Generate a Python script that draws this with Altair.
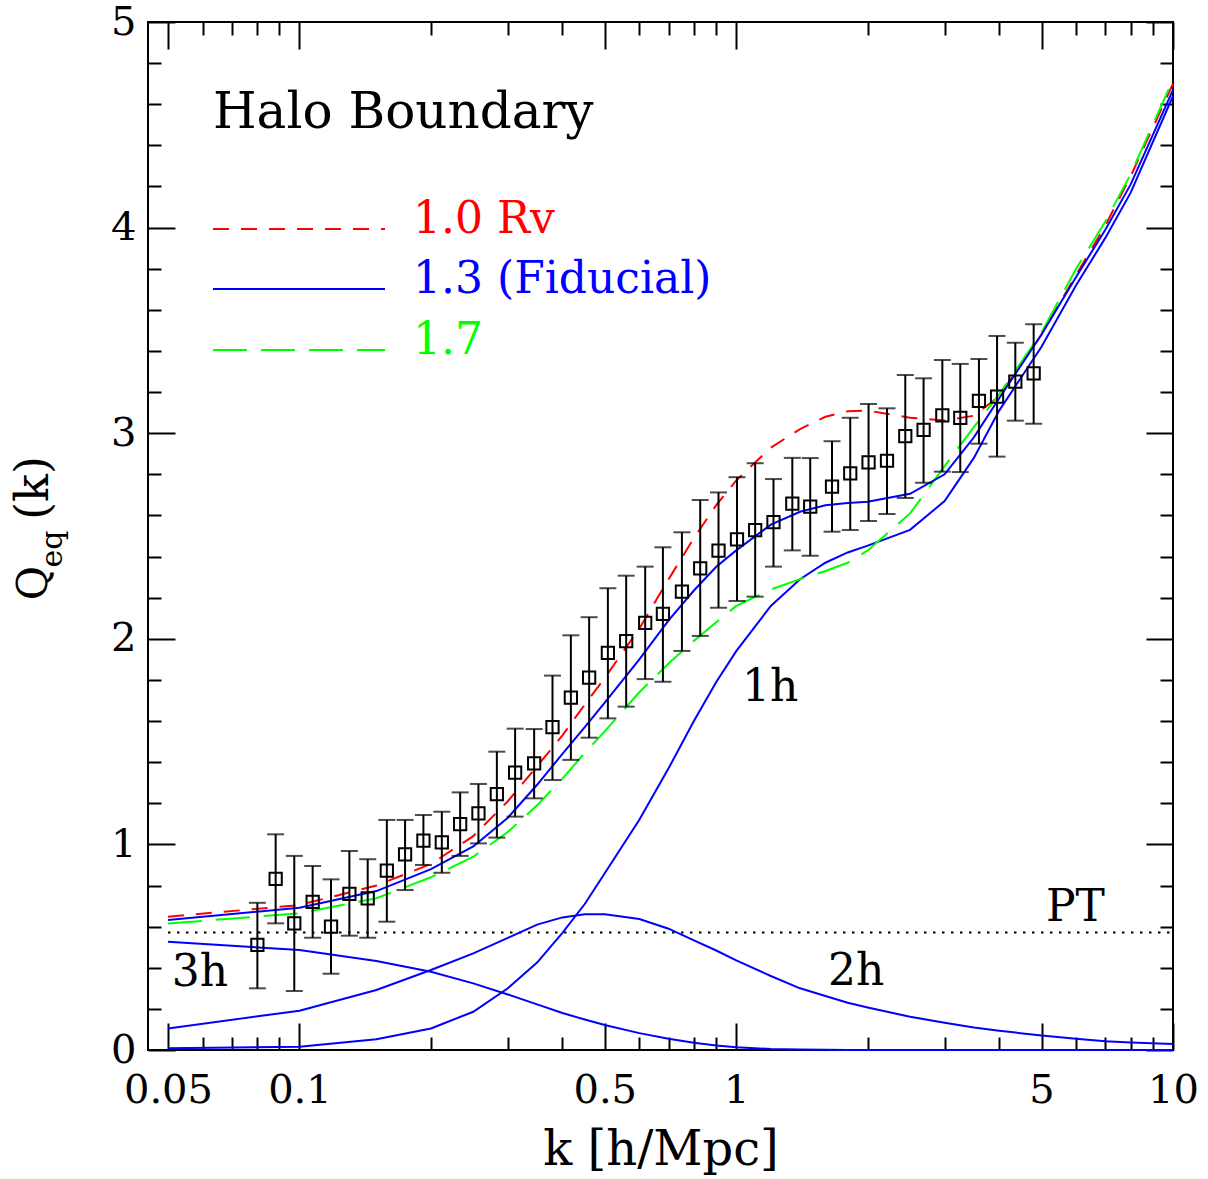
import altair as alt
import pandas as pd

FONT = "DejaVu Serif"

# ---------------- model curves ----------------
k_model = [0.05, 0.1, 0.15, 0.2, 0.25, 0.3, 0.35, 0.4, 0.45, 0.5, 0.6, 0.7, 0.8, 0.9, 1.0,
           1.2, 1.4, 1.6, 1.8, 2.0, 2.5, 3.0, 3.5, 4.0, 5.0, 6.0, 7.0, 8.0, 10.0]
q_rv10 = [0.648, 0.705, 0.800, 0.905, 1.040, 1.210, 1.380, 1.530, 1.680, 1.810, 2.050, 2.290, 2.490, 2.650, 2.770,
          2.930, 3.020, 3.080, 3.107, 3.110, 3.075, 3.062, 3.085, 3.180, 3.480, 3.770, 4.010, 4.250, 4.700]
q_fid = [0.632, 0.692, 0.773, 0.880, 0.990, 1.130, 1.290, 1.440, 1.570, 1.690, 1.900, 2.090, 2.235, 2.350, 2.430,
         2.555, 2.618, 2.650, 2.660, 2.667, 2.705, 2.800, 2.980, 3.170, 3.480, 3.760, 3.990, 4.210, 4.670]
q_rv17 = [0.615, 0.665, 0.738, 0.840, 0.940, 1.060, 1.190, 1.320, 1.445, 1.550, 1.740, 1.880, 1.990, 2.080, 2.160,
          2.240, 2.290, 2.330, 2.370, 2.430, 2.610, 2.840, 3.030, 3.190, 3.490, 3.800, 4.030, 4.260, 4.720]
q_1h = [0.008, 0.016, 0.052, 0.105, 0.186, 0.300, 0.425, 0.570, 0.710, 0.860, 1.120, 1.370, 1.600, 1.790, 1.940,
        2.160, 2.290, 2.370, 2.420, 2.453, 2.530, 2.670, 2.880, 3.110, 3.420, 3.720, 3.950, 4.170, 4.640]
q_2h = [0.105, 0.191, 0.292, 0.389, 0.470, 0.545, 0.610, 0.645, 0.660, 0.660, 0.637, 0.590, 0.533, 0.484, 0.436,
        0.360, 0.300, 0.263, 0.230, 0.207, 0.162, 0.133, 0.109, 0.094, 0.070, 0.055, 0.042, 0.036, 0.029]
q_3h = [0.527, 0.486, 0.433, 0.381, 0.324, 0.270, 0.222, 0.180, 0.148, 0.122, 0.082, 0.055, 0.035, 0.022, 0.013,
        0.005, 0.002, 0.001, 0.0, 0.0, 0.0, 0.0, 0.0, 0.0, 0.0, 0.0, 0.0, 0.0, 0.0]

# tree-level perturbation theory
k_pt = [0.05, 10.0]
q_pt = [0.571, 0.571]

# ---------------- simulation measurements ----------------
k_obs = [0.0801, 0.0882, 0.0973, 0.1072, 0.1181, 0.1301, 0.1433, 0.1585, 0.1745, 0.1922, 0.2118,
         0.2333, 0.2569, 0.2831, 0.3117, 0.3446, 0.3796, 0.4182, 0.4605, 0.5083, 0.5598, 0.6188,
         0.6794, 0.7510, 0.8270, 0.9108, 1.004, 1.105, 1.217, 1.344, 1.477, 1.657, 1.824, 2.009,
         2.214, 2.438, 2.685, 2.964, 3.258, 3.595, 3.955, 4.355, 4.797]
q_obs = [0.511, 0.832, 0.616, 0.721, 0.600, 0.759, 0.738, 0.872, 0.952, 1.018, 1.010,
         1.099, 1.151, 1.245, 1.349, 1.394, 1.570, 1.714, 1.811, 1.932, 1.989, 2.078,
         2.121, 2.229, 2.343, 2.429, 2.484, 2.529, 2.567, 2.657, 2.643, 2.740, 2.805, 2.858,
         2.866, 2.986, 3.016, 3.087, 3.074, 3.157, 3.178, 3.251, 3.291]
q_hi = [0.716, 1.049, 0.944, 0.895, 0.830, 0.968, 0.928, 1.119, 1.119, 1.143, 1.159,
        1.253, 1.294, 1.451, 1.563, 1.561, 1.821, 2.017, 2.105, 2.246, 2.307, 2.351,
        2.445, 2.518, 2.675, 2.712, 2.786, 2.854, 2.777, 2.880, 2.879, 2.961, 3.075, 3.142,
        3.121, 3.283, 3.267, 3.356, 3.337, 3.361, 3.473, 3.440, 3.530]
q_lo = [0.300, 0.616, 0.287, 0.546, 0.371, 0.556, 0.546, 0.624, 0.778, 0.900, 0.862,
        0.944, 1.005, 1.033, 1.135, 1.224, 1.313, 1.411, 1.519, 1.613, 1.670, 1.804,
        1.791, 1.941, 2.014, 2.151, 2.184, 2.205, 2.351, 2.430, 2.404, 2.521, 2.529, 2.573,
        2.607, 2.685, 2.759, 2.813, 2.811, 2.949, 2.886, 3.061, 3.046]

# ---------------- axes ----------------
x_domain = [0.045, 10.0]
y_domain = [0.0, 5.0]
x_major = [0.05, 0.1, 0.5, 1, 5, 10]
x_minor = [0.06, 0.07, 0.08, 0.09, 0.2, 0.3, 0.4, 0.6, 0.7, 0.8, 0.9, 2, 3, 4, 6, 7, 8, 9]
y_major = [0, 1, 2, 3, 4, 5]
y_minor = [0.2, 0.4, 0.6, 0.8, 1.2, 1.4, 1.6, 1.8, 2.2, 2.4, 2.6, 2.8,
           3.2, 3.4, 3.6, 3.8, 4.2, 4.4, 4.6, 4.8]

# ---------------- texts ----------------
title_text = ["Halo Boundary"]
x_title = "k [h/Mpc]"
leg_labels = ["1.0 Rv", "1.3 (Fiducial)", "1.7"]
leg_colors = ["#ff0000", "#0000ff", "#00ff00"]
ann_text = ["1h", "2h", "3h", "PT"]
ann_k = [1.196, 1.883, 0.0592, 5.98]
ann_q = [1.76, 0.38, 0.375, 0.69]

MAJ, MIN = 27, 13

xs = alt.Scale(type="log", domain=x_domain, nice=False)
ys = alt.Scale(type="linear", domain=y_domain, nice=False, zero=False)


def tick_axis(orient, values, size):
    return alt.Axis(orient=orient, values=values, tickSize=size, offset=-size, domain=False,
                    grid=False, ticks=True, tickColor="black", tickWidth=2, labels=False, title=None)


ax_xb = alt.Axis(orient="bottom", values=x_major, tickSize=MAJ, offset=-MAJ, domain=False, grid=False,
                 ticks=True, tickColor="black", tickWidth=2, labels=True, format="~g",
                 labelFont=FONT, labelFontSize=40, labelColor="black", labelPadding=20,
                 labelFlush=False, labelOverlap=False,
                 title=x_title, titleFont=FONT, titleFontSize=48, titleFontWeight="normal",
                 titleColor="black", titlePadding=16)
ax_yl = alt.Axis(orient="left", values=y_major, tickSize=MAJ, offset=-MAJ, domain=False, grid=False,
                 ticks=True, tickColor="black", tickWidth=2, labels=True, format="d",
                 labelFont=FONT, labelFontSize=40, labelColor="black", labelPadding=12,
                 labelFlush=False, labelOverlap=False, title=None)

df_model = pd.DataFrame({"k": k_model, "rv10": q_rv10, "fid": q_fid, "rv17": q_rv17,
                         "h1": q_1h, "h2": q_2h, "h3": q_3h})
df_pt = pd.DataFrame({"k": k_pt, "q": q_pt})
df_obs = pd.DataFrame({"k": k_obs, "q": q_obs, "hi": q_hi, "lo": q_lo})
df_ann = pd.DataFrame({"t": ann_text, "k": ann_k, "q": ann_q})


def X(axis):
    return alt.X("k:Q", scale=xs, axis=axis)


pt_line = alt.Chart(df_pt).mark_line(color="black", strokeWidth=2, strokeDash=[2.5, 6.5]).encode(
    x=X(ax_xb), y=alt.Y("q:Q", scale=ys, axis=ax_yl))
l3h = alt.Chart(df_model).mark_line(color="#0000ff", strokeWidth=2).encode(
    x=X(tick_axis("bottom", x_minor, MIN)), y=alt.Y("h3:Q", scale=ys, axis=tick_axis("left", y_minor, MIN)))
l2h = alt.Chart(df_model).mark_line(color="#0000ff", strokeWidth=2).encode(
    x=X(tick_axis("top", x_major, MAJ)), y=alt.Y("h2:Q", scale=ys, axis=tick_axis("right", y_major, MAJ)))
l1h = alt.Chart(df_model).mark_line(color="#0000ff", strokeWidth=2).encode(
    x=X(tick_axis("top", x_minor, MIN)), y=alt.Y("h1:Q", scale=ys, axis=tick_axis("right", y_minor, MIN)))
l_rv10 = alt.Chart(df_model).mark_line(color="#ff0000", strokeWidth=2, strokeDash=[16, 12]).encode(
    x=X(None), y=alt.Y("rv10:Q", scale=ys, axis=None))
l_rv17 = alt.Chart(df_model).mark_line(color="#00ff00", strokeWidth=2, strokeDash=[34, 14]).encode(
    x=X(None), y=alt.Y("rv17:Q", scale=ys, axis=None))
l_fid = alt.Chart(df_model).mark_line(color="#0000ff", strokeWidth=2).encode(
    x=X(None), y=alt.Y("fid:Q", scale=ys, axis=None))

err = alt.Chart(df_obs).mark_rule(color="black", strokeWidth=2).encode(
    x=X(None), y=alt.Y("lo:Q", scale=ys, axis=None), y2="hi:Q")
cap_hi = alt.Chart(df_obs).mark_tick(color="black", thickness=2, size=17, orient="horizontal").encode(
    x=X(None), y=alt.Y("hi:Q", scale=ys, axis=None))
cap_lo = alt.Chart(df_obs).mark_tick(color="black", thickness=2, size=17, orient="horizontal").encode(
    x=X(None), y=alt.Y("lo:Q", scale=ys, axis=None))
pts = alt.Chart(df_obs).mark_point(shape="square", filled=False, color="black", strokeWidth=2,
                                   size=150, opacity=1).encode(
    x=X(None), y=alt.Y("q:Q", scale=ys, axis=None))

ann = alt.Chart(df_ann).mark_text(font=FONT, fontSize=44, color="black", align="center",
                                  baseline="middle").encode(
    x=X(None), y=alt.Y("q:Q", scale=ys, axis=None), text="t:N")

# panel title (pixel placement inside the frame)
title = alt.Chart(pd.DataFrame({"t": title_text})).mark_text(
    font=FONT, fontSize=50, color="black", align="left", baseline="alphabetic").encode(
    x=alt.value(65), y=alt.value(106), text="t:N")

# legend
leg_rows = [207, 267, 328]
leg_dash = [[16, 12], [1, 0], [34, 14]]
legend_layers = []
for lab, col, yy, dash in zip(leg_labels, leg_colors, leg_rows, leg_dash):
    d = pd.DataFrame({"t": [lab]})
    legend_layers.append(
        alt.Chart(d).mark_rule(color=col, strokeWidth=2, strokeDash=dash).encode(
            x=alt.value(65), x2=alt.value(237), y=alt.value(yy)))
    legend_layers.append(
        alt.Chart(d).mark_text(font=FONT, fontSize=44, color=col, align="left",
                               baseline="alphabetic").encode(
            x=alt.value(265), y=alt.value(yy + 4), text="t:N"))

# y-axis title Q_eq(k), rotated, with subscript
ytitle = [
    alt.Chart(pd.DataFrame({"t": ["Q"]})).mark_text(font=FONT, fontSize=42, angle=270, align="center",
                                                    baseline="middle", color="black").encode(
        x=alt.value(-114), y=alt.value(561), text="t:N"),
    alt.Chart(pd.DataFrame({"t": ["eq"]})).mark_text(font=FONT, fontSize=30, angle=270, align="center",
                                                     baseline="middle", color="black").encode(
        x=alt.value(-95), y=alt.value(527), text="t:N"),
    alt.Chart(pd.DataFrame({"t": ["(k)"]})).mark_text(font=FONT, fontSize=46, angle=270, align="center",
                                                      baseline="middle", color="black").encode(
        x=alt.value(-114), y=alt.value(466), text="t:N"),
]

chart = alt.layer(
    pt_line, l3h, l2h, l1h, l_rv10, l_rv17, l_fid, err, cap_hi, cap_lo, pts, ann, title,
    *legend_layers, *ytitle
).resolve_axis(x="independent", y="independent").properties(
    width=1025, height=1028,
    autosize=alt.AutoSizeParams(type="none"),
    padding={"left": 148, "top": 22, "right": 35, "bottom": 129},
).configure_view(stroke="black", strokeWidth=2)

chart.save("out.html", embed_options={"renderer": "svg", "actions": False})
